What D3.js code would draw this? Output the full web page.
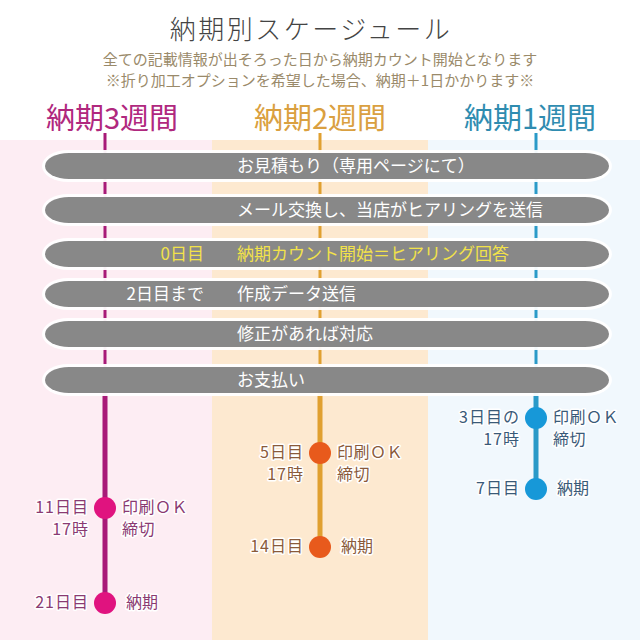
<!DOCTYPE html>
<html><head><meta charset="utf-8">
<script src="https://cdn.jsdelivr.net/npm/d3@7/dist/d3.min.js"></script>
<style>body{margin:0;background:#fff}svg{display:block}</style>
</head><body>
<script>
const title = "納期別スケージュール";
const notes = ["全ての記載情報が出そろった日から納期カウント開始となります","※折り加工オプションを希望した場合、納期＋1日かかります※"];
const columns = ["納期3週間","納期2週間","納期1週間"];
const colBg = ["#fdedf3","#fde9d0","#f1f8fd"];
const colHead = ["#b0287e","#daa040","#2f8cb0"];
const colLine = ["#a81a78","#e0a030","#2a9ac8"];
const colDot = ["#e0137f","#e85a1c","#1798d8"];
const colText = ["#8a3a72","#8a5a3a","#3a5a78"];
const steps = ["お見積もり（専用ページにて）","メール交換し、当店がヒアリングを送信","0日目　　納期カウント開始＝ヒアリング回答","2日目まで　　作成データ送信","修正があれば対応","お支払い"];
const stepPrefix = ["","","0日目","2日目まで","",""];
const stepMain = ["お見積もり（専用ページにて）","メール交換し、当店がヒアリングを送信","納期カウント開始＝ヒアリング回答","作成データ送信","修正があれば対応","お支払い"];
const stepHighlight = [false,false,true,false,false,false];
// milestones per column: cutoff day, delivery day
const cutoffDay = [11,5,3];
const deliveryDay = [21,14,7];
const cutoffLeft = [["11日目","17時"],["5日目","17時"],["3日目の","17時"]];
const cutoffRight = ["印刷ＯＫ","締切"];
const deliveryLeft = ["21日目","14日目","7日目"];
const deliveryRight = "納期";

const W=640,H=640;
const svg=d3.select("body").append("svg").attr("width",W).attr("height",H);
const font='"Noto Sans CJK JP","Noto Sans",sans-serif';

// column backgrounds
const bgX=[0,212,428,640];
svg.selectAll("rect.bg").data(columns).join("rect")
  .attr("x",(d,i)=>bgX[i]).attr("width",(d,i)=>bgX[i+1]-bgX[i])
  .attr("y",140).attr("height",500).attr("fill",(d,i)=>colBg[i]);

// title
svg.append("text").attr("x",311).attr("y",39).attr("text-anchor","middle")
 .attr("font-family",font).attr("font-size",26).attr("font-weight",300).attr("fill","#444").attr("letter-spacing",2.5).text(title);
svg.selectAll("text.note").data(notes).join("text")
 .attr("x",320).attr("y",(d,i)=>65+i*21).attr("text-anchor","middle")
 .attr("font-family",font).attr("font-size",15).attr("fill","#9a8a6a").text(d=>d);

const lineX=[105,320,536];
const headX=[112,320,530];
// headers
svg.selectAll("text.head").data(columns).join("text")
 .attr("x",(d,i)=>headX[i]).attr("y",129).attr("text-anchor","middle")
 .attr("font-family",font).attr("font-size",29).attr("fill",(d,i)=>colHead[i]).text(d=>d);

// per-column day scales
const yScales=columns.map((c,i)=>{
  const r=[[508,603],[453,547],[418,489]][i];
  return d3.scaleLinear().domain([cutoffDay[i],deliveryDay[i]]).range(r);
});
// vertical lines upper (thin) and lower (thick)
svg.selectAll("line.up").data(columns).join("line")
 .attr("x1",(d,i)=>lineX[i]).attr("x2",(d,i)=>lineX[i]).attr("y1",133).attr("y2",395)
 .attr("stroke",(d,i)=>colLine[i]).attr("stroke-width",3);
svg.selectAll("line.low").data(columns).join("line")
 .attr("x1",(d,i)=>lineX[i]).attr("x2",(d,i)=>lineX[i]).attr("y1",390).attr("y2",(d,i)=>yScales[i](deliveryDay[i]))
 .attr("stroke",(d,i)=>colLine[i]).attr("stroke-width",5);

// step bars
const barY=[166,210,254,294,334,380];
const gBars=svg.selectAll("g.bar").data(steps).join("g").attr("transform",(d,i)=>`translate(0,${barY[i]})`);
gBars.append("rect").attr("x",42).attr("y",-16).attr("width",570).attr("height",32).attr("rx",26).attr("ry",16)
 .attr("fill","#fff").attr("opacity",0.95);
gBars.append("rect").attr("x",45).attr("y",-13).attr("width",564).attr("height",26).attr("rx",24).attr("ry",13)
 .attr("fill","#888");
gBars.append("text").attr("x",237).attr("y",6).attr("font-family",font).attr("font-size",17)
 .attr("fill",(d,i)=>stepHighlight[i]?"#f2e24a":"#fff").text((d,i)=>stepMain[i]);
gBars.append("text").attr("x",204).attr("y",6).attr("text-anchor","end").attr("font-family",font).attr("font-size",17)
 .attr("fill",(d,i)=>stepHighlight[i]?"#f2e24a":"#fff").text((d,i)=>stepPrefix[i]);

// milestones
function halo(sel){return sel.attr("stroke","#fff").attr("stroke-width",3).attr("paint-order","stroke").attr("stroke-linejoin","round");}
columns.forEach((c,i)=>{
  const yc=yScales[i](cutoffDay[i]), yd=yScales[i](deliveryDay[i]);
  const lx=lineX[i];
  svg.append("circle").attr("cx",lx).attr("cy",yc).attr("r",11).attr("fill",colDot[i]);
  svg.append("circle").attr("cx",lx).attr("cy",yd).attr("r",11).attr("fill",colDot[i]);
  const t=svg.append("g").attr("font-family",font).attr("font-size",16).attr("fill",colText[i]);
  cutoffLeft[i].forEach((s,k)=>{
    halo(t.append("text").attr("x",lx-16).attr("y",yc+5+k*22).attr("text-anchor","end").attr("letter-spacing",1).text(s));
  });
  cutoffRight.forEach((s,k)=>{
    halo(t.append("text").attr("x",lx+17).attr("y",yc+5+k*22).attr("letter-spacing",0.5).text(s));
  });
  halo(t.append("text").attr("x",lx-16).attr("y",yd+5).attr("text-anchor","end").attr("letter-spacing",1).text(deliveryLeft[i]));
  halo(t.append("text").attr("x",lx+21).attr("y",yd+5).text(deliveryRight));
});
</script>
</body></html>
